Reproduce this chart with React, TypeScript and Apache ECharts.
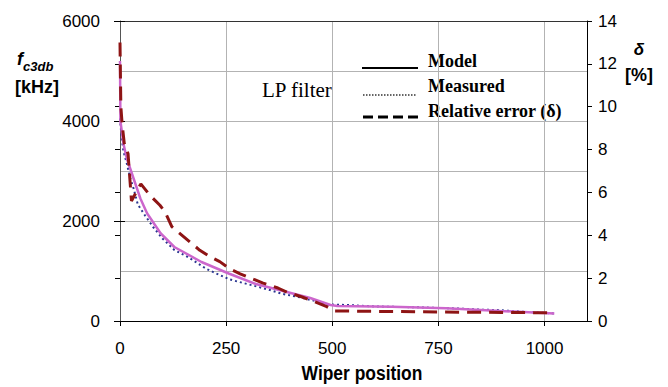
import React, { useEffect, useRef } from "react";
import * as echarts from "echarts";

// Wiper position samples and values
const modelX = [0, 1, 8, 16, 32, 48, 64, 96, 128, 192, 256, 320, 384, 448, 496, 512, 640, 768, 896, 1023];
const modelY = [5200, 4000, 3550, 3250, 2850, 2450, 2150, 1750, 1480, 1180, 950, 740, 600, 460, 320, 300, 285, 255, 200, 150];

const measX = [0, 4, 8, 16, 24, 32, 42, 59, 78, 100, 128, 160, 204, 232, 259, 290, 322, 349, 381, 420, 460, 490, 535, 602, 695, 793, 858, 887, 950, 1023];
const measY = [4050, 3650, 3400, 3150, 2860, 2650, 2330, 2110, 1880, 1650, 1420, 1280, 1040, 930, 830, 760, 690, 630, 545, 480, 400, 330, 320, 290, 275, 250, 225, 220, 185, 150];

const errX = [0, 2, 5, 10, 19, 27, 49, 69, 94, 106, 122, 188, 212, 235, 259, 283, 313, 337, 372, 393, 429, 452, 487, 506, 600, 750, 900, 1023];
const errY = [13.0, 10.0, 9.2, 8.3, 7.8, 5.6, 6.4, 5.9, 5.4, 5.1, 4.4, 3.3, 3.0, 2.77, 2.43, 2.2, 1.96, 1.77, 1.54, 1.35, 1.12, 0.95, 0.67, 0.47, 0.45, 0.42, 0.4, 0.38];

const xTicks = { min: 0, max: 1100, interval: 250 };
const yLeftTicks = { min: 0, max: 6000, interval: 2000 };
const yRightTicks = { min: 0, max: 14, interval: 2 };

const SANS = "'Liberation Sans', Arial, sans-serif";
const SERIF = "'Liberation Serif', 'Times New Roman', serif";

const zip = (xs: number[], ys: number[]) => xs.map((x, i) => [x, ys[i]]);
const plain = (v: number) => String(v);

export default function App() {
  const ref = useRef<HTMLDivElement>(null);
  useEffect(() => {
    if (!ref.current) return;
    const chart = echarts.init(ref.current, undefined, { renderer: "svg" });
    const grid = "#b3b3b3";
    const tickLabel = { fontFamily: SANS, fontSize: 17, color: "#000" };
    chart.setOption({
      animation: false,
      backgroundColor: "#fff",
      grid: { left: 120, right: 81, top: 21, bottom: 66 },
      xAxis: [
        {
          type: "value",
          ...xTicks,
          position: "bottom",
          axisLine: { show: true, onZero: false, lineStyle: { color: "#000", width: 1 } },
          axisTick: { show: true, length: 5, lineStyle: { color: "#000" } },
          axisLabel: {
            ...tickLabel,
            margin: 19,
            showMaxLabel: false,
            formatter: (v: number) => (v > 1050 ? "" : plain(v)),
          },
          splitLine: { show: true, lineStyle: { color: grid, width: 1 } },
        },
        {
          type: "value",
          ...xTicks,
          position: "top",
          axisLine: { show: true, onZero: false, lineStyle: { color: "#333", width: 1 } },
          axisTick: { show: false },
          axisLabel: { show: false },
          splitLine: { show: false },
        },
      ],
      yAxis: [
        {
          type: "value",
          ...yLeftTicks,
          position: "left",
          axisLine: { show: true, onZero: false, lineStyle: { color: "#555", width: 1 } },
          axisTick: { show: true, length: 6, lineStyle: { color: "#000" } },
          minorTick: { show: false, splitNumber: 2 },
          minorSplitLine: { show: true, lineStyle: { color: grid, width: 1 } },
          splitLine: { show: true, lineStyle: { color: grid, width: 1 } },
          axisLabel: { ...tickLabel, margin: 20, formatter: plain },
        },
        {
          type: "value",
          ...yRightTicks,
          position: "right",
          axisLine: { show: true, onZero: false, lineStyle: { color: "#000", width: 1 } },
          axisTick: { show: true, length: 5, lineStyle: { color: "#000" } },
          splitLine: { show: false },
          axisLabel: { ...tickLabel, margin: 11, formatter: plain },
        },
        {
          type: "value",
          ...yLeftTicks,
          position: "left",
          axisLine: { show: false },
          axisTick: { show: true, inside: true, length: 5, lineStyle: { color: "#000" } },
          splitLine: { show: false },
          axisLabel: { show: false },
        },
        {
          type: "value",
          ...yRightTicks,
          position: "right",
          axisLine: { show: false },
          axisTick: { show: true, inside: true, length: 5, lineStyle: { color: "#000" } },
          splitLine: { show: false },
          axisLabel: { show: false },
        },
      ],
      series: [
        {
          name: "Measured",
          type: "line",
          data: zip(measX, measY),
          showSymbol: false,
          lineStyle: { color: "#2a3590", width: 2, type: [2, 3] },
          z: 2,
        },
        {
          name: "Model",
          type: "line",
          data: zip(modelX, modelY),
          showSymbol: false,
          lineStyle: { color: "#cc66cc", width: 2.5 },
          z: 3,
        },
        {
          name: "Relative error (δ)",
          type: "line",
          yAxisIndex: 1,
          data: zip(errX, errY),
          showSymbol: false,
          lineStyle: { color: "#8e1414", width: 3, type: [14, 8] },
          z: 4,
        },
      ],
      graphic: [
        { type: "text", x: 17, y: 59, style: { text: "f", font: `italic bold 18px ${SANS}`, fill: "#000", textAlign: "left", textVerticalAlign: "middle" } },
        { type: "text", x: 23, y: 66, style: { text: "c3db", font: `italic bold 13px ${SANS}`, fill: "#000", textAlign: "left", textVerticalAlign: "middle" } },
        { type: "text", x: 15, y: 87, style: { text: "[kHz]", font: `bold 18px ${SANS}`, fill: "#000", textAlign: "left", textVerticalAlign: "middle" } },
        { type: "text", x: 639, y: 49, style: { text: "δ", font: `italic bold 17px ${SANS}`, fill: "#000", textAlign: "center", textVerticalAlign: "middle" } },
        { type: "text", x: 639, y: 75, style: { text: "[%]", font: `bold 18px ${SANS}`, fill: "#000", textAlign: "center", textVerticalAlign: "middle" } },
        { type: "text", x: 362, y: 373, scaleX: 0.83, style: { text: "Wiper position", font: `bold 21px ${SANS}`, fill: "#000", textAlign: "center", textVerticalAlign: "middle" } },
        { type: "text", x: 262, y: 90, style: { text: "LP filter", font: `21px ${SERIF}`, fill: "#000", textAlign: "left", textVerticalAlign: "middle" } },
        { type: "line", shape: { x1: 362, y1: 68, x2: 418, y2: 68 }, style: { stroke: "#000", lineWidth: 2 } },
        { type: "line", shape: { x1: 363, y1: 95, x2: 416, y2: 95 }, style: { stroke: "#333", lineWidth: 1.5, lineDash: [1.5, 1.5] } },
        { type: "line", shape: { x1: 363, y1: 117, x2: 418, y2: 117 }, style: { stroke: "#000", lineWidth: 3, lineDash: [10, 5] } },
        { type: "text", x: 428, y: 61, style: { text: "Model", font: `bold 18px ${SERIF}`, fill: "#000", textAlign: "left", textVerticalAlign: "middle" } },
        { type: "text", x: 428, y: 86, style: { text: "Measured", font: `bold 18px ${SERIF}`, fill: "#000", textAlign: "left", textVerticalAlign: "middle" } },
        { type: "text", x: 428, y: 111, style: { text: "Relative error (δ)", font: `bold 18px ${SERIF}`, fill: "#000", textAlign: "left", textVerticalAlign: "middle" } },
      ],
    });
    return () => chart.dispose();
  }, []);
  return (
    <div
      ref={ref}
      style={{ position: "fixed", left: 0, top: 0, width: 668, height: 387, background: "#fff" }}
    />
  );
}
